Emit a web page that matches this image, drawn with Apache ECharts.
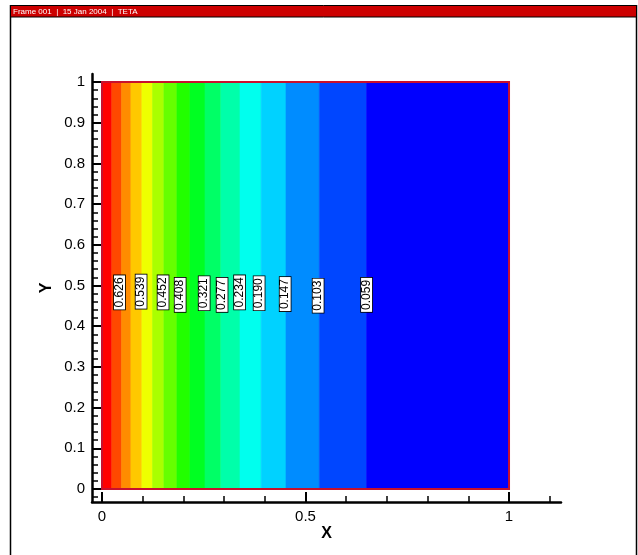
<!DOCTYPE html>
<html>
<head>
<meta charset="utf-8">
<script src="https://cdn.jsdelivr.net/npm/echarts@6/dist/echarts.min.js"></script>
<style>html,body{margin:0;padding:0;background:#fff;}#c{width:638px;height:555px;}</style>
</head>
<body>
<div id="c"></div>
<script>
// Contour levels (TETA) and the x position where each contour line sits
const contourLevels = [0.669, 0.626, 0.582, 0.539, 0.495, 0.452, 0.408, 0.365, 0.321, 0.277, 0.234, 0.190, 0.147, 0.103, 0.059];
const contourX      = [0.024, 0.048, 0.071, 0.098, 0.124, 0.152, 0.184, 0.216, 0.253, 0.292, 0.339, 0.391, 0.452, 0.534, 0.650];
// Band fill colours, left (hot) to right (cold)
const bandColors = ['#ff0000','#ff4800','#ff8c00','#ffc800','#eeff00','#aaff00','#66ff00','#22ff00','#00ff22','#00ff66','#00ffaa','#00ffee','#00d2ff','#008cff','#0046ff','#0000ff'];
// Contour labels (text, x, y)
const labelTexts = ['0.626','0.539','0.452','0.408','0.321','0.277','0.234','0.190','0.147','0.103','0.059'];
const labelX     = [0.043, 0.096, 0.150, 0.192, 0.251, 0.295, 0.338, 0.386, 0.450, 0.531, 0.650];
const labelY     = [0.483, 0.485, 0.483, 0.477, 0.481, 0.477, 0.483, 0.481, 0.479, 0.475, 0.477];
// Axis ticks
const xMajorTicks = [0, 0.5, 1];
const xMinorTicks = [0, 0.1, 0.2, 0.3, 0.4, 0.5, 0.6, 0.7, 0.8, 0.9, 1, 1.1];
const yMajorTicks = [0, 0.1, 0.2, 0.3, 0.4, 0.5, 0.6, 0.7, 0.8, 0.9, 1];
const yMinorTicks = [];
for (let i = -1; i <= 50; i++) yMinorTicks.push(Math.round(i * 2) / 100);
const headerText = 'Frame 001  |  15 Jan 2004  |  TETA';

const edges = [0].concat(contourX, [1]);
const bandData = [];
for (let i = 0; i < edges.length - 1; i++) bandData.push([edges[i], edges[i + 1]]);
const labelData = labelTexts.map((t, i) => [labelX[i], labelY[i], t]);

const X_MIN = -0.0246, X_MAX = 1.1277, Y_MIN = -0.0319, Y_MAX = 1.0197;
const FONT = '"Liberation Sans", Arial, sans-serif';

const chart = echarts.init(document.getElementById('c'), null, {renderer: 'canvas'});
const axisLine = {show: true, onZero: false, lineStyle: {color: '#000', width: 2.5}};
chart.setOption({
  animation: false,
  backgroundColor: '#fff',
  grid: {left: 92, right: 77, top: 74, bottom: 53, containLabel: false},
  graphic: [
    {type: 'line', shape: {x1: 10.5, y1: 5, x2: 10.5, y2: 555}, style: {stroke: '#000', lineWidth: 1.5}},
    {type: 'line', shape: {x1: 636.5, y1: 5, x2: 636.5, y2: 555}, style: {stroke: '#000', lineWidth: 1.5}},
    {type: 'rect', shape: {x: 10.5, y: 5.5, width: 626, height: 11.5}, style: {fill: '#cc0000', stroke: '#000', lineWidth: 1}},
    {type: 'text', x: 13, y: 11.5, style: {text: headerText, fill: '#fff', font: '8px ' + FONT, verticalAlign: 'middle'}}
  ],
  xAxis: [
    {type: 'value', position: 'bottom', min: X_MIN, max: X_MAX,
     name: 'X', nameLocation: 'middle', nameGap: 24, nameMoveOverlap: false,
     nameTextStyle: {fontSize: 16, fontWeight: 'bold', color: '#000', fontFamily: FONT},
     axisLine: axisLine, splitLine: {show: false},
     axisTick: {show: true, inside: true, length: 10, lineStyle: {color: '#000', width: 2}, customValues: xMajorTicks},
     axisLabel: {show: true, margin: 7, fontSize: 15, color: '#000', fontFamily: FONT, customValues: xMajorTicks,
                 formatter: v => String(v)}},
    {type: 'value', position: 'bottom', min: X_MIN, max: X_MAX,
     axisLine: {show: false, onZero: false}, splitLine: {show: false},
     axisTick: {show: true, inside: true, length: 6, lineStyle: {color: '#000', width: 1.5}, customValues: xMinorTicks},
     axisLabel: {show: false}}
  ],
  yAxis: [
    {type: 'value', position: 'left', min: Y_MIN, max: Y_MAX,
     name: 'Y', nameLocation: 'middle', nameGap: 37, nameRotate: 90, nameMoveOverlap: false,
     nameTextStyle: {fontSize: 16, fontWeight: 'bold', color: '#000', fontFamily: FONT},
     axisLine: axisLine, splitLine: {show: false},
     axisTick: {show: true, inside: true, length: 10, lineStyle: {color: '#000', width: 2}, customValues: yMajorTicks},
     axisLabel: {show: true, margin: 7, fontSize: 15, color: '#000', fontFamily: FONT, customValues: yMajorTicks,
                 formatter: v => String(v)}},
    {type: 'value', position: 'left', min: Y_MIN, max: Y_MAX,
     axisLine: {show: false, onZero: false}, splitLine: {show: false},
     axisTick: {show: true, inside: true, length: 6, lineStyle: {color: '#000', width: 1.5}, customValues: yMinorTicks},
     axisLabel: {show: false}}
  ],
  series: [
    {type: 'custom', xAxisIndex: 0, yAxisIndex: 0, clip: true, data: bandData,
     encode: {x: [0, 1]},
     renderItem: (params, api) => {
       const p0 = api.coord([api.value(0), 1]);
       const p1 = api.coord([api.value(1), 0]);
       const c = bandColors[params.dataIndex];
       return {type: 'rect', shape: {x: p0[0], y: p0[1], width: p1[0] - p0[0], height: p1[1] - p0[1]},
               style: {fill: c, stroke: c, lineWidth: 0.6}};
     }},
    {type: 'custom', xAxisIndex: 0, yAxisIndex: 0, data: [[0, 0, 1, 1]],
     renderItem: (params, api) => {
       const p0 = api.coord([api.value(0), api.value(3)]);
       const p1 = api.coord([api.value(2), api.value(1)]);
       return {type: 'rect', shape: {x: p0[0], y: p0[1], width: p1[0] - p0[0], height: p1[1] - p0[1]},
               style: {fill: 'none', stroke: '#c8102e', lineWidth: 2}, z2: 5};
     }},
    {type: 'custom', xAxisIndex: 0, yAxisIndex: 0, data: labelData, z: 10,
     renderItem: (params, api) => {
       const p = api.coord([api.value(0), api.value(1)]);
       return {type: 'text', x: p[0], y: p[1], rotation: Math.PI / 2,
               style: {text: labelTexts[params.dataIndex], fill: '#000', font: '12px ' + FONT,
                       align: 'center', verticalAlign: 'middle', backgroundColor: '#fff',
                       borderColor: '#000', borderWidth: 0.8, padding: [1, 2, 0, 2], lineHeight: 10}};
     }}
  ]
});
</script>
</body>
</html>
